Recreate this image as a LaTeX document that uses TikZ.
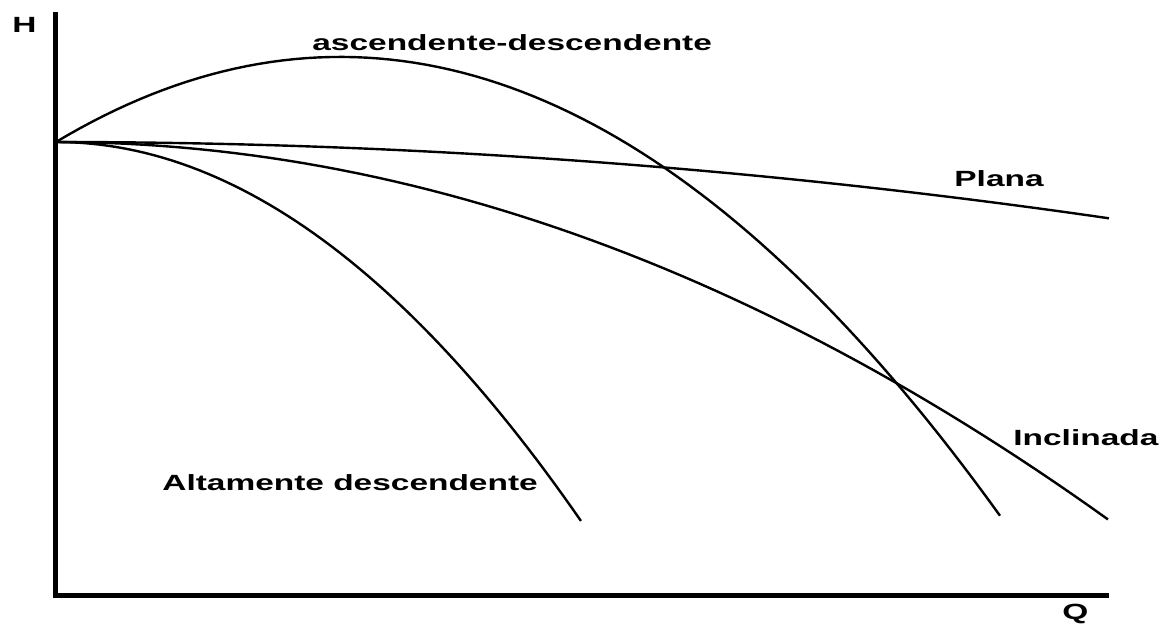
\documentclass[tikz,border=0pt]{standalone}
\usepackage{fontspec}
\setmainfont{Liberation Sans}[FakeStretch=1.52]
\begin{document}
\begin{tikzpicture}[x=0.5pt, y=-0.5pt,
		axis/.style={line width=2.5pt},
		curve/.style={line width=1.2pt},
		lbl/.style={font=\fontsize{11}{13}\selectfont\bfseries, inner sep=0pt, anchor=base west}]
		  \useasboundingbox (0,0) rectangle (1168,623);
		  \coordinate (htop) at (55,12);
		  \coordinate (origin) at (55,595);
		  \coordinate (qend) at (1109,595);
		  \draw[axis] (htop) -- (origin) -- (qend);
		  \node[lbl] (H) at (12,32) {H};
		  \node[lbl] (Q) at (1062,619) {Q};
		  % curves, u in hundreds of px from the H axis
		  \draw[curve] plot[domain=0:10.53, samples=60] ({56+100*\x},{142+0.688*\x*\x});
		  \draw[curve] plot[domain=0:10.52, samples=60] ({56+100*\x},{142+0.13*\x+3.398*\x*\x});
		  \draw[curve] plot[domain=0:9.44, samples=80] ({56+100*\x},{142-59.89*\x+10.538*\x*\x});
		  \draw[curve] plot[domain=0:5.25, samples=60] ({56+100*\x},{142+13.75*\x*\x});
		  \node[lbl] (asc) at (312,50) {ascendente-descendente};
		  \node[lbl] (plana) at (954,186) {Plana};
		  \node[lbl] (incl) at (1013,445) {Inclinada};
		  \node[lbl] (alta) at (162,490) {Altamente descendente};
		\end{tikzpicture}
\end{document}
